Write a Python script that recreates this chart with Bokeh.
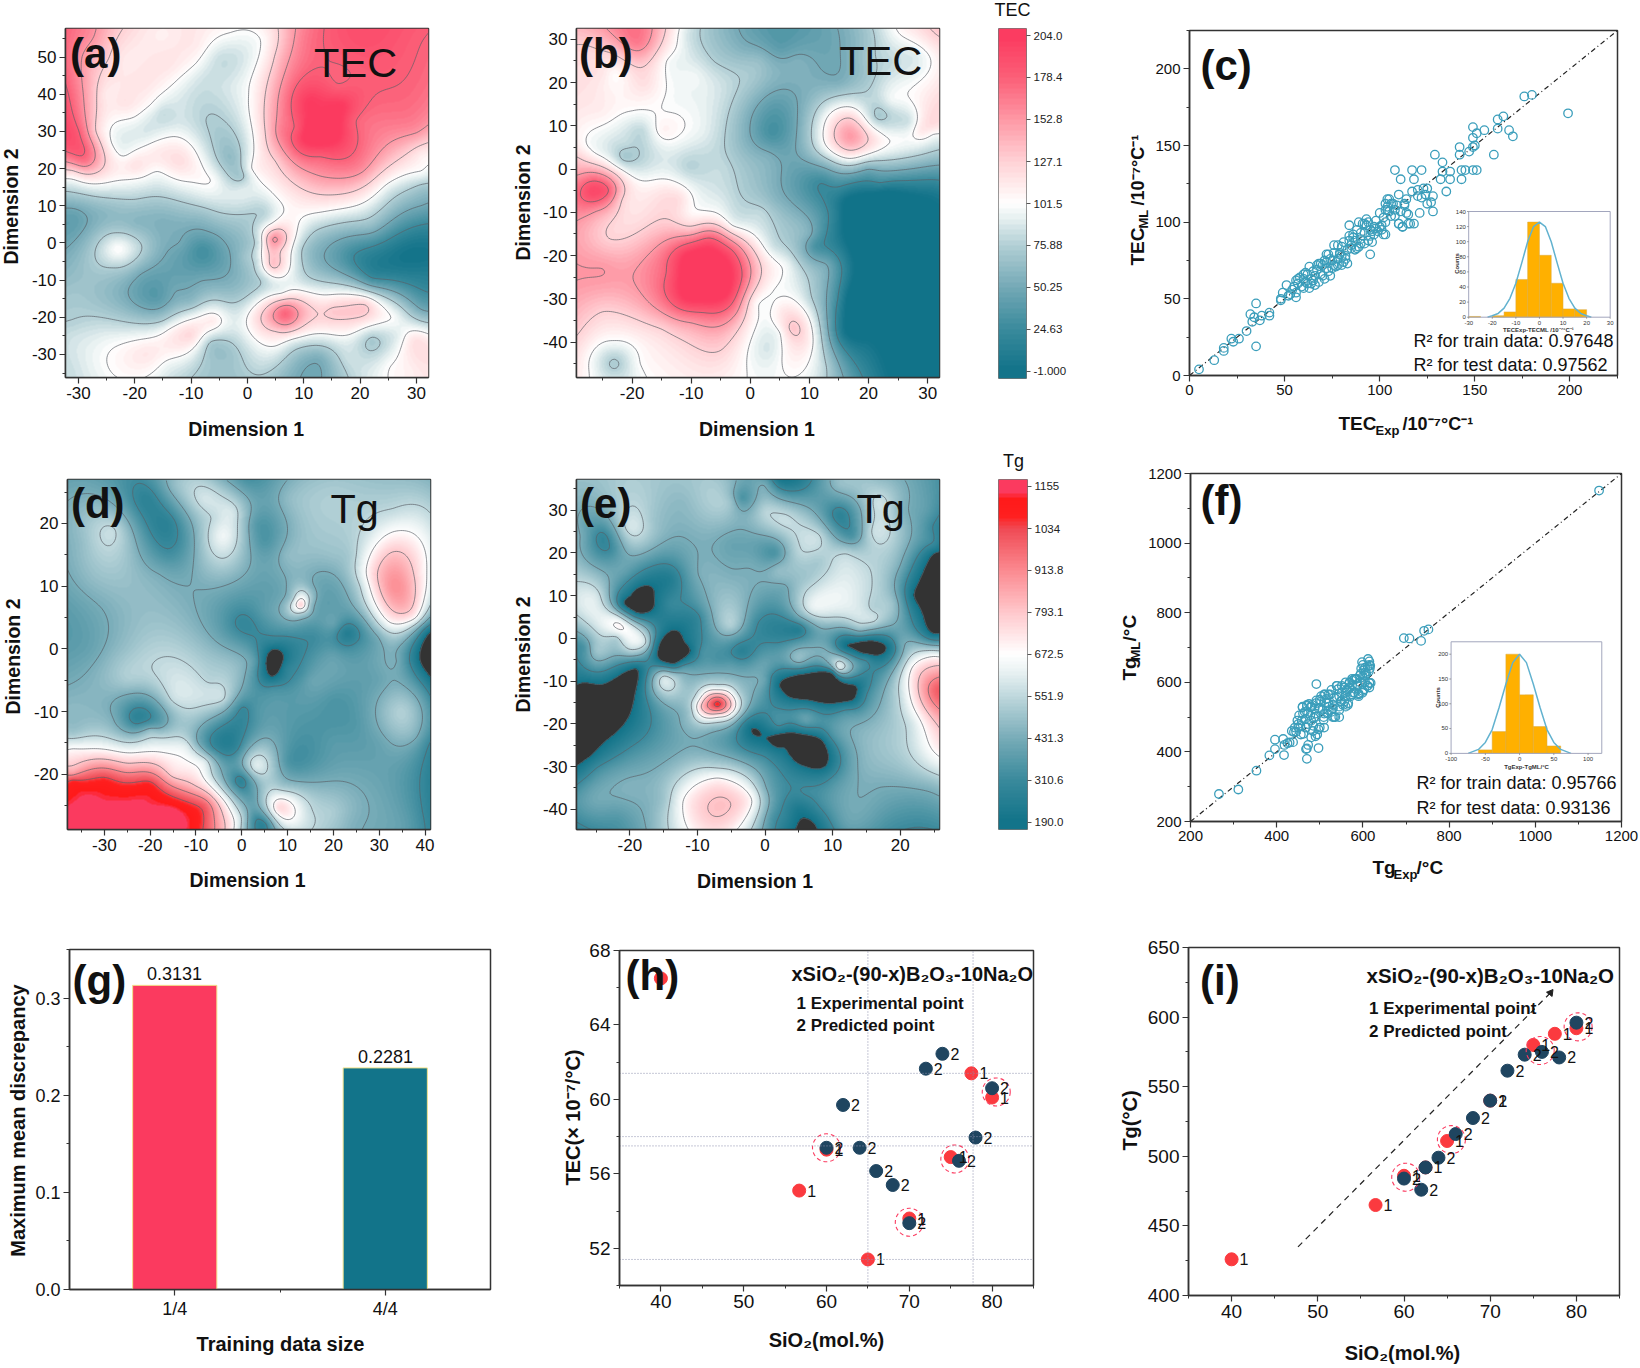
import numpy as np
from bokeh.plotting import figure
from bokeh.layouts import column, row
from bokeh.models import (Label, FixedTicker, LinearColorMapper, Range1d, LinearAxis)
from bokeh.core.properties import value
from bokeh.embed import file_html
from bokeh.resources import INLINE

FONT = "Liberation Sans"

# ---------- values ----------
ANCHORS_A = [
(13,31,225),(8.6,31,180),(19,33,180),(13,23.5,180),(16,42,180),(11,38,205),(10,28,205),(16,28,205),(13,36,205),(17,37,205),(30,55,180),(20,55,190),(10,55,165),(5,50,130),(3,55,105),
(3,30,125),(1,25,100),(5,22,127),(6,30,165),(20,20,160),(13,18,153),(30,30,155),(31,45,175),(31,24,112),(31,19,100),(31,15,70),(25,15,95),(13,13,127),(13,8,100),
(31,10,50),(31,5,25),(31,0,5),(31,-3,0),(31,-8,10),(31,-14,30),(31,-18,50),(31,-21,75),(14,-2,50),(19,-3,25),(25,-3,8),(28,-3,1),(22,4,60),(18,6,78),(22,-10,30),(10,-2,72),(12,3,75),(11,-9,75),
(4.7,1,160),(6,-2,125),(4.5,-6,135),(8,0,105),(2,0,85),(4.5,5,105),(1.5,-5,80),(0,-4,72),(10,-11,88),(0,-10,65),(3,-10,80),
(6.7,-19,178),(1.5,-20,118),(5,-24,125),(10,-21,135),(15,-18,130),(21,-17,130),(23,-17,110),(26,-20,100),(3,-17,120),(6,-13,95),(14,-16,115),(-2,-20,90),(0,-16,85),(-2,-25,85),(2,-27,100),(5,-27.5,103),(8,-27,90),(15,-26,92),
(5,-31,85),(12,-34,48),(13,-31,55),(18,-31,85),(22,-26,72),(26.5,-25,90),(30,-26,118),(29,-34,110),(25,-33,100),(20,-34,85),
(-5,-33,68),(-6.5,-27,72),(-8,-35,72),(-3,-30,68),(2,-34,80),(-14,-33,95),(-20,-34,108),(-18,-30,115),(-10,-25,122),(-6,-21,112),(-14,-23,100),(-25,-26,95),(-31,-34,85),(-31,-25,85),(-31,-22,78),(-15,-21,76),
(-16,-15,38),(-19,-8,52),(-13,-13,50),(-15,-18,55),(-26,-15,65),(-31,-14,70),(-31,-10,65),(-10,-16,62),(-3,-15,70),
(-23,-1.5,102),(-27,-2,76),(-19,-1,78),(-23,3,74),(-24,-7,74),(-8,-2,28),(-12,0,50),(-4,0,50),(-3,-5,50),(-8,-10,50),(-7,3,50),(-14,-2,50),(-8,7,63),(-31,7,42),(-25,8,60),(-20,5,60),(-15,5.5,55),(-31,13,72),(-20,11,73),(-5,8,75),(0,3,70),(3,8,78),
(-31,17,100),(-20,17,100),(-16,19,100),(-10,16,100),(-6,17,100),(-12,22,120),(-20,21,118),(-31,19.5,127),(-29,22,170),(-29,25,180),(-30,30,180),(-31,40,172),(-29,50,150),(-27,40,130),(-31,50,165),(-28,56,158),(-25,57,140),(-25,40,112),(-22,50,114),
(-15,35,82),(-10,40,85),(-5,50,84),(-2,50,85),(-3,23,62),(-5,28,70),(-1,18,70),(-7,33,75),(-4,34,78),(-1,14,92),(-24,27,100),(-22,24,98),(-13,29,100),(-16,25,112),
(-15,40,100),(-3,56,100),(-20,40,115),(-25,50,130),(-20,56,118),(-15,56,110),(-27,30,128),(-30,56,165),(0,40,100),(0.5,20,100),(1,56,100),(4,50,118),(2,15,96),(5,12,100),(8,12,112),
(-20,33.5,100),(-9,48,100),(-12,44,100),(-17,37,100),(-12,36,87),(-8,45,87),(-5,42,85),(-18,30,88),(-10,32,85),(-2,42,92),(-22,38,118),(-14,48,116),(-9,53,112),(-18,43,116),
]
ANCHORS_B = [
(-8,-25,225),(-14,-24,180),(-7,-16,180),(-1.5,-25,180),(-8,-33,180),(-3,-19,180),(-11,-20,205),(-5,-20,205),(-11,-30,205),(-4,-29,205),(-5,-15,153),(0,-25,153),(-2,-33,150),(-10,-35.5,153),(-17,-22,160),(-15,-11.5,127),(-24,-16,127),(-10,-14,135),
(-28,-25,153),(-25,-23,153),(-17,-31,153),(-29,-38,127),(-25,-33,127),(-15,-37,127),(-5,-42,127),(-23,-40,100),(-19,-45,100),(-27,-47,100),(-23,-45,72),(-23,-47.5,82),(-13,-45,112),
(-27,-5,195),(-29,-5,175),(-24,-5,180),(-29,-1,150),(-29,-10,160),(-26,-10,150),(-22,-7,130),(-24,0,125),(-29,3,125),(-28,5,105),(-22,-1,115),(-15,-5,115),(-12,-7,120),(-10,-10,105),(-7,-10,103),(-3,-13,100),(-5,-8,92),
(-19,29,165),(-20,31,170),(-15,30,130),(-23,27,130),(-28,28,125),(-25,22,115),(-23,22,103),(-18,20,120),(-15,21,105),(-14,25,100),(-14,14,100),(-25,13,110),(-20,13,100),(-26,9,100),(-26,4,98),(-21.5,2.5,72),(-21,6,82),(-25,6,92),(-18.5,9,80),(-15,9,108),(-10.5,0.5,78),(-8,8,92),(-10,18,95),(-9.5,21.5,97),(-12,28,98),
(-5,0,82),(-4,30,60),(-6,25,75),(-11,31,90),(-5,20,85),(0,21,72),(1.5,25,65),(-1,28,55),(5,28,40),(12,29,45),(8,25,55),(4,15,40),(3.5,8,30),(0,10,50),(-2,5,65),(3,3,55),(6,0,48),(4,-7,60),(-1,-5,73),(2,-10,80),(4,-18,85),(6,-22,97),(4.5,-28,100),(1,-31,105),(3,-33,100),(1,-40,95),(0,-47,100),(3,-42,88),(5,-38,100),(5.5,-33,115),(7,-37,132),(10,-40,110),(6,-44,105),(10,-45,100),(13,-46,75),(10,-30,80),(8,-20,70),(10,-15,55),(13,-22,50),(13,-40,60),
(17,7.5,152),(13,9,110),(17,12,125),(21,7,118),(25,7,100),(17,3,110),(12,5,90),(10,8,72),(13,14,90),(18,16,85),(10,16,60),(21.5,12,72),(27,11,85),(24,16,97),(28,16,105),(31,10,120),(29,9,115),(31,8,100),(31,4,75),(25,2,73),(20,0,50),(13,1,60),(12,-3,25),(15,-5,20),(22,-3,27),(31,-2,28),(31,-6,3),(23,-5,0),(16,-7,0),(17,-15,-10),(25,-25,-30),(17,-30,-10),(20,-40,0),(23,-47,0),(14,-10,18),(11,-18,30),(15,-30,22),(17,-45,30),(31,-30,-30),(31,-47,-30),(31,-9,-5),(16,-38,2),
(20,31,70),(25,31,100),(31,31,125),(31,26,105),(28,26,90),(24,25,82),(20,22,70),(15,20,55),(20,26,72),
]
ANCHORS_D = [
(-30,-27,1160),(-20,-27,1160),(-12,-27,1130),(-37,-27,1160),(-37,-25,1140),(-30,-25,1145),(-20,-25.5,1140),(-15,-25.5,1140),(-25,-23.7,1125),(-37,-23,1110),(-30,-23.5,1125),(-37,-21,1060),(-30,-21,1070),(-20,-21.5,1060),(-37,-20,880),(-25,-19,850),(-15,-20,760),(-37,-16,680),(-20,-16,650),(-12,-15.5,600),(-37,-13.5,500),(-20,-13,480),(-8,-18,600),(-8,-25,990),(-5,-27,850),(-2,-28,700),(-10,-22,800),(-3,-24,600),(0,-27,550),(-6,-20,520),(-10,-15,450),
(33,10,900),(33,15,810),(33,6,790),(28,12,720),(39,12,730),(33,19,660),(28,18,600),(39,22,570),(33,22,560),(26,10,560),(32,4,650),(24,15,520),(38,5,680),(40,8,660),(37,3,500),(30,2,440),
(13,7,800),(13,8.8,600),(11,8,500),(15,7,480),(13,5.5,500),
(7,-2,110),(5.3,-2,190),(8.5,-3,190),(7,0,190),(6.5,-4.5,190),(4.5,-2,250),(9.5,-3,260),(7,1,270),(3,-2,370),(10,-5,300),(7,-6,320),(13,-4,330),(13,2,320),(16,2,320),(23,2.5,240),(25,0.5,330),(28,-1,390),(20,4,400),(20,-1,390),
(40.5,-1.5,120),(39,-2,190),(38,-3,270),(36,-2,340),(40,3,280),(34,-2,430),(39,-7,380),
(-16,20,270),(-16,15,330),(-12,17,370),(-21,24,270),(-18,12,430),(-28,19,560),(-35,17,480),(-37,7,390),(-30,7,440),(-33,11,470),(-4,18,640),(-4,14,540),(-6,21,560),(-8,24,590),(-15,26,470),(-2,22,590),(1,27,340),(-5,27,460),(5,17,350),(3,20,370),(10,24,470),(20,25,520),(40,26,480),(10,15,470),(20,15,490),(15,10,450),(5,6,380),(0,4,290),(2,3,300),(-4,5,360),(-10,9,430),
(-25,0,490),(-33,0,400),(-20,-3,550),(-15,-8,570),(-25,-5,520),(-7,-5,540),(-4,-8,560),(-3,-3,500),(-30,-8,450),(-23,-11.5,280),(-20,-12,350),(-18,-12,380),(-10,-12,470),(-28,-11,430),(-37,-10,470),
(-4,-16,270),(-7,-16,350),(-1,-16,300),(-3,-19,380),(0,-21,270),(2,-18,560),(3,-19,600),(5,-15,460),(2,-24,380),(3,-27,320),(5,-28,280),(8,-25.5,750),(6,-24,600),(12,-26,660),(9,-28,600),(9,-22,500),(15,-26,560),(20,-26,520),(24,-28,450),(28,-26,430),(36,-28,380),(40,-26,300),(40,-15,340),(30,-15,400),(20,-15,370),(15,-5,400),(10,-10,370),(3,-10,350),(0,-9.5,300),(20,-8,350),(25,-12,360),(35,-10,530),(30,-5,400),(38,-14,440),(10,-18,350),(15,-22,460),
]
ANCHORS_E = [
(-27,-12,130),(-27,-22,130),(-23,-18,130),(-19.5,-10,150),(-26,-27,170),(-23,-10,190),(-19,-7,190),(-22,-22,190),(-28,-7,270),(-28,-3,320),(-25,-6,400),(-17.5,-6,300),(-16,-15,390),(-20,-25,300),(-25,-30,300),(-28,-30,190),(-28,-38,360),(-25,-38,420),(-20,-35,450),(-28,-11,190),(-24,-11.5,170),
(-18.5,9.5,90),(-19,6,190),(-16.5,10,190),(-20,10,200),(-21,8,190),(-16.5,11.5,190),(-18,12.3,190),(-14,8,300),(-12,10,320),(-9,8,400),
(-13.5,-2,80),(-15,-5.5,190),(-12,-1,190),(-14.5,1.5,200),(-13.5,2,190),(-16,-4,190),(-11,-3,190),(-13.5,-6,190),(-16.5,-1,310),(-9.5,-3,330),(-12,-7,380),
(25,10,130),(23.5,5,190),(22,10,190),(25,20,190),(25,1,190),(20,10,380),(25,22,300),(22,0,400),(19,8,490),
(15,-2,60),(12,-2,190),(18,-2,190),(15,-0.8,190),(15,-3.5,190),(11,-2,270),(19,-2,270),(15,0.5,290),(15,-5,310),(20,-1,400),(9,-2,420),
(8,-11.5,70),(2.5,-12,190),(13.5,-11,190),(7,-8,190),(8,-15,190),(5,-8.5,190),(10,-8,190),(2,-11,190),(13,-14.5,190),(4,-14,190),(5,-11,90),(11,-12,90),(1,-9,300),(15,-13,310),(15,-8,300),(10.8,-7,620),(9,-6.5,350),(0,-10,400),(12,-17,330),
(5,-26,70),(0.5,-23,190),(8.5,-24,190),(9,-30,190),(4,-28,190),(6,-30,190),(3,-25,190),(4,-22,190),(7,-25,90),(2.5,-24,110),(2,-20.5,320),(-2,-21,190),(-3,-20,280),(-4,-23,300),(0,-27,290),(10,-33,330),(10,-23,340),(6,-19,400),
(-7,-15.5,1100),(-7,-13,800),(-9.5,-16,800),(-5,-16,780),(-7,-18,720),(-10,-14,600),(-7,-11.5,600),(-4,-13,550),(-11,-17,520),(-8,-20.5,500),(-12,-20,450),(-12,-10,470),
(-7,-38,800),(-7,-33,690),(-12,-38,680),(-2,-38,680),(-7,-31,580),(-13,-30,480),(-15,-38,500),(-7,-44.5,750),(0,-35,440),(-18,-42,430),(-22,-42,360),(-27.5,-44,300),(1,-42,350),
(5,-40,220),(3,-42,280),(6,-36,320),(7,-44,170),(8,-40,300),(11,-38,400),
(25.5,-12,1000),(25,-8,850),(22,-7,700),(21.5,-12,690),(25,-4,660),(25.5,-20,800),(25,-25,700),(25,-30,600),(25,-34,480),(22,-20,600),(20,-14,560),(18,-12,450),(20,-5,440),(18,-22,500),(20,-32,470),(17,-35,430),(25,-44,320),(18,-44,340),(12,-44,390),(14,-30,440),
(-5,3,530),(-1.5,4,330),(-3.5,-3,260),(0,-2,330),(2,-1,310),(5,2,240),(5,0,320),(7,2,370),(-5,-6,370),(0,-6,400),(5,-5,480),(7,7,620),(6,11,550),(8,5,550),(6.5,14,510),(2,16,480),(16,4.5,580),(16,7,530),(14,2,470),(-10,15,430),(-5,15,440),(0,10,390),(5,5,420),(-14,14,240),(-10,5,290),(-8,0,360),(-11,18,410),(-7,-5,340),(-7,-8,430),
(-20,26,590),(-20,22,490),(-17,28,510),(-24,30,440),(-24,24,290),(-23,21,310),(-26,28,390),(-18,16,310),(-21,16,400),(-12,25,440),(-10,32,500),(-12,32,470),(-5,32,490),(-3.5,33,340),(0,36,430),(2,37,230),(5,37,240),(-5,36,460),(-13,36,490),(8,37,360),(0,30,540),(5,25,560),(5,20,540),(1.5,20,340),(13,28,340),(11,29,270),(13,24,340),(14,30,420),(16,25,570),(17,32,580),(17,21,540),(20,30,460),(11,36,480),(17,37,480),(24,30,380),(25,26,300),(22,25,420),(20,17,430),
(-27,24,420),(-28,20,460),(-28,14,540),(-26,8,620),(-25,10,590),(-22,5,600),(-21.5,3,700),(-20,2,650),(-22,0,520),(-27,3,510),(-27,-2,330),(-25,-3,500),(-20,-3,530),(-17.5,-1,550),(-17,3,350),(-15,-8.5,540),(-15,-10,600),(-13,-9,500),
(3,28,570),(8,24,560),(12,20,550),(15,18.5,540),(8,18,510),(7,10,600),(-5,22,400),(-2,18,420),(3,12,420),(7,30,430),(2,33,420),
]

TEC_TICKS = [-1, 24.63, 50.25, 75.88, 101.5, 127.1, 152.8, 178.4, 204.0]
TEC_TICK_LABELS = ["-1.000", "24.63", "50.25", "75.88", "101.5", "127.1", "152.8", "178.4", "204.0"]
TG_TICKS = [190, 310.6, 431.3, 551.9, 672.5, 793.1, 913.8, 1034, 1155]
TG_TICK_LABELS = ["190.0", "310.6", "431.3", "551.9", "672.5", "793.1", "913.8", "1034", "1155"]

TEC_STOPS = [(-1,"#117389"),(24.63,"#3a8a9c"),(50.25,"#74a9b6"),(75.88,"#b2cfd5"),(92,"#e5eff0"),(101.5,"#ffffff"),(110,"#fff0f0"),(127.1,"#ffd2d6"),(152.8,"#fe98a5"),(178.4,"#fb5f78"),(204,"#fb3a5f")]
TG_STOPS = [(190,"#117389"),(310.6,"#3a8a9c"),(431.3,"#78acb8"),(551.9,"#bfd8dd"),(620,"#e8f1f2"),(672.5,"#ffffff"),(793.1,"#ffc8cc"),(913.8,"#fb8a90"),(1034,"#f04a55"),(1070,"#ff1f1f"),(1125,"#ff1a1a"),(1135,"#fb3a5f"),(1155,"#fb3a5f")]

C_EXP = [5,13,18,18,22,23,26,30,32,33,35,35,34,37,38,42,42,48,48,49,51,52,53,55,56,56,56,57,199,176,180,165,162,162,168,170,155,149,151,149,150,149,147,142,142,160,129,133,132,133,137,137,135,143,145,143,149,151,108,117,118,111,122,123,125,120,117,120,122,124,125,127,128,128,121,118,115,112,110,114,113,110,105,103,104,
58,60,61,59,60,62,63,63,64,65,66,66,67,67,68,69,70,71,71,72,72,73,73,74,75,76,76,77,78,78,79,80,80,81,81,82,83,83,84,84,84,85,86,87,87,88,89,89,90,91,92,92,93,93,94,95,95,96,96,97,98,99,100,101,102,102,103,103,104,105,106,107,108,109,110,111,112,113,114,115,116,54,57,61,65,69,74,79,82,86,90,94,98,101,104,
70,75,78,80,85,88,90,92,95,97,100,103,106,108,60,62,64,68,72,76]
C_ML = [4,10,16,18,24,22,24,29,40,35,47,19,38,36,39,41,39,49,50,54,59,52,53,58,54,51,62,63,171,182,183,169,167,161,160,156,160,162,158,155,150,149,146,149,144,144,144,139,128,133,133,128,120,134,134,128,134,134,134,134,128,128,134,122,122,121,120,117,116,118,112,113,117,107,106,99,99,97,99,106,112,118,115,112,108,
64,66,61,58,63,60,71,57,63,68,59,65,72,69,61,66,72,63,75,79,70,68,79,65,75,72,80,71,85,76,79,72,84,74,87,78,82,73,88,91,98,85,92,82,88,95,84,100,89,99,86,93,102,98,88,79,91,94,87,97,101,94,106,98,92,103,92,100,115,107,104,112,108,111,99,107,97,111,115,105,99,56,60,67,62,73,76,80,76,90,93,100,96,95,110,
65,70,72,78,83,83,86,99,95,92,97,108,112,104,57,66,60,73,74,85]

F_EXP = [266,311,353,383,396,396,415,417,418,430,470,497,468,473,492,695,708,735,742,752,1148,612,598,605,615,616,614,615,
445,448,452,455,458,460,462,465,468,470,472,475,478,480,482,484,486,488,490,492,494,497,500,503,506,509,512,515,518,521,524,527,530,533,536,539,542,545,548,551,554,557,560,563,566,569,572,575,578,581,584,587,590,593,596,599,602,605,608,611,438,442,450,456,461,467,473,479,485,491,497,503,509,515,521,527,533,539,545,551,557,563,569,575,581,587,593,599,605,611,615,617,603,590,575,560,545,530,
460,470,480,500,510,520,540,560,575,470,490,510,530,545,565,590,610,615,618,600,480,490,500,510,530,520,550,560,570,585,595,605,600,450,440,425,435]
F_ML = [279,292,346,390,408,435,437,391,420,427,380,411,408,420,595,727,726,719,748,752,1151,667,658,642,650,640,632,598,
458,490,505,475,490,528,452,515,470,532,480,538,505,442,535,460,498,525,510,548,450,525,470,560,520,500,565,540,510,530,565,515,535,555,500,590,580,520,545,570,535,585,560,580,540,600,560,605,570,610,610,590,565,620,640,615,635,600,625,645,428,470,480,450,510,495,512,528,475,540,465,545,492,552,520,578,500,558,530,590,545,575,598,565,570,595,600,570,628,590,660,648,580,568,592,530,560,525,
530,535,530,550,565,565,590,600,610,410,445,470,500,500,535,560,590,585,598,575,490,500,525,510,525,540,545,570,585,610,625,620,650,470,457,425,460]

INSET_C_LEFT = [-30,-20,-15,-10,-5,0,5,10,15]
INSET_C_RIGHT = [-25,-15,-10,-5,0,5,10,15,20]
INSET_C_COUNTS = [1,2,7,50,126,82,45,11,10]
INSET_C_CURVE_X = [-22,-20,-17.5,-15,-12.5,-10,-7.5,-5,-2.5,0,2.5,5,7.5,10,12.5,15,17.5,20,22]
INSET_C_CURVE_Y = [0,2,5,12,25,45,72,100,120,126,120,100,72,45,25,12,5,2,0]
INSET_F_LEFT = [-60,-40,-20,0,20,40]
INSET_F_RIGHT = [-40,-20,0,20,40,60]
INSET_F_COUNTS = [7,44,200,118,54,15]
INSET_F_CURVE_X = [-75,-60,-50,-40,-30,-20,-10,0,10,20,30,40,50,60,75]
INSET_F_CURVE_Y = [0,8,22,48,92,140,183,200,183,140,92,48,22,8,0]

MMD_POS = [1, 2]
MMD_VALUES = [0.3131, 0.2281]
MMD_LABELS = ["0.3131", "0.2281"]

H_EXP_X = [40,56.7,60,65,70,75,77.5,80]
H_EXP_Y = [66.5,55.1,57.3,51.4,53.6,56.9,61.4,60.1]
H_EXP_TAGS = ["","1","1","1","1","1","1","1"]
H_PRED_X = [60,62,64,66,68,70,72,74,76,78,80]
H_PRED_Y = [57.4,59.7,57.4,56.15,55.4,53.35,61.65,62.45,56.7,57.95,60.6]
H_PRED_TAGS = ["2"]*11
H_RING_X = [60,70,75.5,80.5]
H_RING_Y = [57.4,53.4,56.8,60.4]
H_HLINES = [61.4,58,57.5,51.4]
H_VLINES = [65,77.7]

I_EXP_X = [40,56.7,60,62.5,65,70,75,77.5,80]
I_EXP_Y = [426,465,486,492,511,540,580,588,592]
I_EXP_TAGS = ["1"]*9
I_PRED_X = [60,62,62.5,64,66,68,70,72,74,76,78,80]
I_PRED_Y = [484,476,492,499,516,527.5,540,561.5,573,575,571,596]
I_PRED_TAGS = ["2","2","","2","2","2","2","2","2","2","2","2"]
I_RING_X = [60.2,65.5,75.8,80.2]
I_RING_Y = [485,512,576,593]
I_GUIDE_X = [47.7,77]
I_GUIDE_Y = [434.9,617.5]

# ---------- page geometry (reference pixels) ----------
PAGE_W, PAGE_H = 1640, 1368
ROWS = [(0,445),(445,890),(890,1368)]
DARK = "#333333"

# transparent sheet over the whole page that carries the panel texts
sheet = figure(width=PAGE_W,height=PAGE_H,x_range=Range1d(0,PAGE_W),y_range=Range1d(PAGE_H,0),
               toolbar_location=None,output_backend="svg",margin=(-PAGE_H,0,0,0),
               min_border_left=0,min_border_right=0,min_border_top=0,min_border_bottom=0,
               background_fill_color=None,border_fill_color=None,outline_line_color=None)
sheet.axis.visible=False
sheet.grid.visible=False

def T(px,py,text,size=18,bold=False,angle=0,align="left",color="#111111"):
    sheet.add_layout(Label(x=px,y=py,text=text,text_font=FONT,
        text_font_size=f"{size}px",text_font_style="bold" if bold else "normal",
        angle=angle,text_align=align,text_baseline="middle",text_color=color))

def hex2rgb(c): return np.array([int(c[i:i+2],16) for i in (1,3,5)],float)

def make_palette(stops, n):
    vs = np.array([s[0] for s in stops],float)
    cs = np.array([hex2rgb(s[1]) for s in stops])
    q = vs[0]+(np.arange(n)+0.5)/n*(vs[-1]-vs[0])
    return ["#%02x%02x%02x"%tuple(int(round(np.interp(v,vs,cs[:,k]))) for k in range(3)) for v in q]

def fit_surface(anchors, frame, xr, yr):
    l,r,t,b = frame
    a = np.array(anchors,float)
    sx = (r-l)/(xr[1]-xr[0])/100; sy=(b-t)/(yr[1]-yr[0])/100
    P = np.c_[a[:,0]*sx,a[:,1]*sy]
    def k(d2):
        with np.errstate(divide="ignore",invalid="ignore"):
            out = 0.5*d2*np.log(d2)
        return np.nan_to_num(out)
    d2 = ((P[:,None,:]-P[None,:,:])**2).sum(-1)
    n=len(P)
    A=np.zeros((n+3,n+3))
    A[:n,:n]=k(d2)+0.002*np.eye(n)
    A[:n,n]=1; A[:n,n+1:n+3]=P
    A[n,:n]=1; A[n+1:n+3,:n]=P.T
    rhs=np.r_[a[:,2],0,0,0]
    w=np.linalg.solve(A,rhs)
    nx=int(round(r-l)); ny=int(round(b-t))
    xs=np.linspace(xr[0],xr[1],nx); ys=np.linspace(yr[0],yr[1],ny)
    Z=np.zeros((ny,nx))
    gx=xs*sx
    for j,y in enumerate(ys):
        Q=np.c_[gx,np.full(nx,y*sy)]
        D=((Q[:,None,:]-P[None,:,:])**2).sum(-1)
        Z[j]=k(D)@w[:n]+w[n]+Q@w[n+1:]
    return xs,ys,Z

class Panel:
    def __init__(self, fig_box, frame, xr, yr, xmaj, xmin, ymaj, ymin, tick_size=17):
        fl,fr,ft,fb = fig_box
        l,r,t,b = frame
        self.frame=frame; self.xr=xr; self.yr=yr
        p = figure(width=int(fr-fl),height=int(fb-ft),x_range=Range1d(*xr),y_range=Range1d(*yr),
                   toolbar_location=None,output_backend="svg",
                   min_border_left=int(round(l-fl)),min_border_right=int(round(fr-r)),
                   min_border_top=int(round(t-ft)),min_border_bottom=int(round(fb-b)))
        p.grid.visible=False
        p.outline_line_color=DARK; p.outline_line_width=1.5
        p.background_fill_color="white"; p.border_fill_color="white"
        for ax,maj,mi in ((p.xaxis[0],xmaj,xmin),(p.yaxis[0],ymaj,ymin)):
            ax.ticker=FixedTicker(ticks=maj,minor_ticks=mi)
            ax.major_label_overrides={v:(f"{v:g}") for v in maj}
            ax.major_tick_in=0; ax.major_tick_out=6; ax.minor_tick_in=0; ax.minor_tick_out=3
            ax.axis_line_color=DARK; ax.axis_line_width=1.5
            ax.major_tick_line_color=DARK; ax.minor_tick_line_color=DARK
            ax.major_tick_line_width=1.2
            ax.major_label_text_font=FONT; ax.major_label_text_font_size=f"{tick_size}px"
            ax.major_label_text_color="#111111"; ax.major_label_standoff=3
        p.yaxis[0].major_label_orientation="horizontal"
        self.p=p

def steps(a,b,s): return [round(a+i*s,6) for i in range(int(round((b-a)/s))+1)]

def field_panel(box,frame,xr,yr,xmaj,xmin,ymaj,ymin,anchors,mapper,levels):
    P=Panel(box,frame,xr,yr,xmaj,xmin,ymaj,ymin)
    xs,ys,Z=fit_surface(anchors,frame,xr,yr)
    P.p.image(image=[Z],x=xr[0],y=yr[0],dw=xr[1]-xr[0],dh=yr[1]-yr[0],color_mapper=mapper)
    P.p.contour(xs[::2],ys[::2],Z[::2,::2],levels=levels,line_color="#5a5f66",line_width=0.8,line_alpha=0.85)
    return P

def colorbar(box,frame,yr,ticks,labels,mapper,vmin,vmax):
    P=Panel(box,frame,(0,1),yr,[],[],ticks,[])
    p=P.p
    p.yaxis.visible=False
    ax=LinearAxis(ticker=FixedTicker(ticks=ticks),major_label_overrides={t:l for t,l in zip(ticks,labels)})
    ax.major_tick_in=0; ax.major_tick_out=4; ax.minor_tick_out=0; ax.axis_line_color=None
    ax.major_tick_line_color="#555555"; ax.major_label_standoff=3
    ax.major_label_text_font=FONT; ax.major_label_text_font_size="11.5px"; ax.major_label_text_color="#222222"
    p.add_layout(ax,"right")
    p.xaxis.visible=False
    p.outline_line_color="#777777"; p.outline_line_width=1
    n=350
    Z=np.clip(np.linspace(yr[0],yr[1],n),vmin,vmax)[:,None]
    p.image(image=[Z],x=0,y=yr[0],dw=1,dh=yr[1]-yr[0],color_mapper=mapper)
    return P

def inset(P,frame_in,xlim,ylim,left,right,counts,cx,cy,xticks,yticks):
    p=P.p; l,r,t,b=frame_in; fl,fr,ft,fb=P.frame
    kx=(xlim[1]-xlim[0])/(r-l); ky=(ylim[1]-ylim[0])/(b-t)
    p.extra_x_ranges["ix"]=Range1d(xlim[0]-(l-fl)*kx,xlim[1]+(fr-r)*kx)
    p.extra_y_ranges["iy"]=Range1d(ylim[0]-(fb-b)*ky,ylim[1]+(t-ft)*ky)
    kw=dict(x_range_name="ix",y_range_name="iy")
    p.quad(left=left,right=right,bottom=[0]*len(left),top=counts,fill_color="#ffb000",line_color="#d9a840",line_width=0.5,**kw)
    p.line(cx,cy,line_color="#62b2cf",line_width=1.5,**kw)
    p.quad(left=[xlim[0]],right=[xlim[1]],bottom=[ylim[0]],top=[ylim[1]],fill_color=None,line_color="#a2a6bd",line_width=1,**kw)
    tkx=(xlim[1]-xlim[0])*0.012; tky=(ylim[1]-ylim[0])*0.015
    p.segment(x0=xticks,x1=xticks,y0=[ylim[0]]*len(xticks),y1=[ylim[0]-tky]*len(xticks),line_color="#666666",line_width=0.6,**kw)
    p.segment(x0=[xlim[0]]*len(yticks),x1=[xlim[0]-tkx]*len(yticks),y0=yticks,y1=yticks,line_color="#666666",line_width=0.6,**kw)
    for v in xticks:
        T(l+(v-xlim[0])/kx,b+6,str(v),size=6,align="center",color="#333333")
    for v in yticks:
        T(l-3,b-(v-ylim[0])/ky,str(v),size=6,align="right",color="#333333")

def scatter_panel(box,frame,rng,maj,mi,xs,ys):
    P=Panel(box,frame,rng,rng,maj,mi,maj,mi,tick_size=15)
    P.p.line([rng[0],rng[1]],[rng[0],rng[1]],line_color="#222222",line_width=1.2,line_dash="5 3 1 3")
    P.p.scatter(xs,ys,size=8.5,marker="circle",fill_alpha=0,line_color="#3b9ebb",line_width=1.3)
    return P

tec_mapper=LinearColorMapper(palette=make_palette(TEC_STOPS,64),low=-1,high=204,low_color="#117389",high_color="#fb3a5f")
tg_mapper=LinearColorMapper(palette=make_palette(TG_STOPS,96),low=190,high=1155,low_color="#333333",high_color="#fb3a5f")
tec_lv=TEC_TICKS[1:-1]
tg_lv=TG_TICKS[:-1]
ROT=np.pi/2

# ---- row 1
t,b=ROWS[0]
A=field_panel((0,510,t,b),(64.6,427.5,28,377),(-32.3,32.15),(-36.2,57.7),steps(-30,30,10),steps(-25,25,10),steps(-30,50,10),steps(-35,55,10),ANCHORS_A,tec_mapper,tec_lv)
T(69.6,53,"(a)",42,True); T(313.6,62,"TEC",41.5)
T(245.6,428,"Dimension 1",19.5,True,align="center"); T(10.7,206,"Dimension 2",19.5,True,angle=ROT,align="center")
B=field_panel((510,990,t,b),(575.8,939,28,377),(-29.4,32),(-48.2,32.5),steps(-20,30,10),steps(-25,25,10),steps(-40,30,10),steps(-45,25,10),ANCHORS_B,tec_mapper,tec_lv)
T(578.5,53,"(b)",42,True); T(838.7,60,"TEC",41.5)
T(756.4,428,"Dimension 1",19.5,True,align="center"); T(522,202,"Dimension 2",19.5,True,angle=ROT,align="center")
CB1=colorbar((990,1100,t,b),(997.5,1026,28,378),(-5.3,208.3),TEC_TICKS,TEC_TICK_LABELS,tec_mapper,-1,204)
T(1012,9,"TEC",18,align="center")
C=scatter_panel((1100,1640,t,b),(1189.3,1617,30,375),(0,225),steps(0,200,50),steps(25,225,50),C_EXP,C_ML)
inset(C,(1468.3,1609.7,211,316.7),(-30,30),(0,140),INSET_C_LEFT,INSET_C_RIGHT,INSET_C_COUNTS,INSET_C_CURVE_X,INSET_C_CURVE_Y,[-30,-20,-10,0,10,20,30],[0,20,40,60,80,100,120,140])
T(1456,263,"Counts",6,True,angle=ROT,align="center",color="#333333")
T(1538,329,"TECExp-TECML /10⁻⁷°C⁻¹",6,True,align="center",color="#333333")
T(1200,65,"(c)",42,True)
T(1413,340,"R² for train data: 0.97648",18); T(1413,364,"R² for test  data: 0.97562",18)
T(1338,423,"TEC",19,True); T(1375,430,"Exp",13,True); T(1402,423,"/10⁻⁷°C⁻¹",18,True)
T(1137,265,"TEC",19,True,angle=ROT); T(1143,228,"ML",13,True,angle=ROT); T(1137,205,"/10⁻⁷°C⁻¹",18,True,angle=ROT)

# ---- row 2
t,b=ROWS[1]
D=field_panel((0,510,t,b),(66.8,429.6,479,828.7),(-38.05,41.2),(-28.8,27),steps(-30,40,10),steps(-35,35,10),steps(-20,20,10),steps(-25,25,10),ANCHORS_D,tg_mapper,tg_lv)
T(70.4,503,"(d)",42,True); T(330,508,"Tg",41.5)
T(247,879,"Dimension 1",19.5,True,align="center"); T(12.5,656,"Dimension 2",19.5,True,angle=ROT,align="center")
E=field_panel((510,990,t,b),(576.5,939.3,479,829),(-27.9,25.8),(-44.75,37.2),steps(-20,20,10),steps(-25,25,10),steps(-40,30,10),steps(-35,35,10),ANCHORS_E,tg_mapper,tg_lv)
T(579.6,503,"(e)",42,True); T(856,508,"Tg",41.5)
T(754.5,880,"Dimension 1",19.5,True,align="center"); T(522,654,"Dimension 2",19.5,True,angle=ROT,align="center")
CB2=colorbar((990,1100,t,b),(998,1027,479,829),(169,1175),TG_TICKS,TG_TICK_LABELS,tg_mapper,190,1155)
T(1013,460,"Tg",18,align="center")
F=scatter_panel((1100,1640,t,b),(1190.3,1621,473.3,820.7),(200,1200),steps(200,1200,200),steps(300,1100,200),F_EXP,F_ML)
inset(F,(1450.7,1601.3,641.3,752.7),(-100,120),(0,225),INSET_F_LEFT,INSET_F_RIGHT,INSET_F_COUNTS,INSET_F_CURVE_X,INSET_F_CURVE_Y,[-100,-50,0,50,100],[0,50,100,150,200])
T(1437,697,"Counts",6,True,angle=ROT,align="center",color="#333333")
T(1526,766,"TgExp-TgML/°C",6,True,align="center",color="#333333")
T(1200,500,"(f)",42,True)
T(1416,782,"R² for train data: 0.95766",18); T(1416,807,"R² for test  data: 0.93136",18)
T(1372,867,"Tg",19,True); T(1393,874,"Exp",13,True); T(1416,867,"/°C",19,True)
T(1129,680,"Tg",19,True,angle=ROT); T(1135,660,"ML",13,True,angle=ROT); T(1129,641,"/°C",19,True,angle=ROT)

# ---- row 3
t,b=ROWS[2]
G=Panel((0,510,t,b),(69.3,490.3,949.3,1289.3),(0.5,2.5),(0,0.35),MMD_POS,[1.5],[0,0.1,0.2,0.3],[0.05,0.15,0.25,0.35],tick_size=18)
G.p.xaxis[0].major_label_overrides={1:"1/4",2:"4/4"}
G.p.yaxis[0].major_label_overrides={0:"0.0",0.1:"0.1",0.2:"0.2",0.3:"0.3"}
G.p.vbar(x=MMD_POS,top=MMD_VALUES,width=0.4,fill_color=["#fb3a5f","#12748a"],line_color="#f2e28a",line_width=1)
T(72,980,"(g)",42,True)
T(174,973,MMD_LABELS[0],18,align="center"); T(385,1056,MMD_LABELS[1],18,align="center")
T(280,1343,"Training data size",20,True,align="center"); T(17,1120,"Maximum mean discrepancy",20,True,angle=ROT,align="center")

def comp_panel(box,frame,yr,ymaj,ymin,ex,ey,etags,px,py,ptags,rx,ry):
    P=Panel(box,frame,(35,85),yr,steps(40,80,10),steps(35,85,10),ymaj,ymin,tick_size=19)
    p=P.p
    p.scatter(ex,ey,size=13,fill_color="#fb3a3f",line_color="#fb3a3f")
    p.scatter(px,py,size=13,fill_color="#1f4560",line_color="#1f4560")
    p.scatter(rx,ry,size=28,fill_alpha=0,line_color="#fb3a5f",line_width=1.1,line_dash="4 3")
    p.text(ex,ey,text=etags,x_offset=8,text_baseline="middle",text_font=value(FONT),text_font_size="16px",text_color="#111111")
    p.text(px,py,text=ptags,x_offset=8,text_baseline="middle",text_font=value(FONT),text_font_size="16px",text_color="#111111")
    return P

H=comp_panel((510,1100,t,b),(619.3,1033,950,1284.7),(50,68),steps(52,68,4),steps(50,66,4),H_EXP_X,H_EXP_Y,H_EXP_TAGS,H_PRED_X,H_PRED_Y,H_PRED_TAGS,H_RING_X,H_RING_Y)
for v in H_HLINES:
    H.p.line([35,85],[v,v],line_color="#8d90ad",line_width=1,line_dash="1 2")
for v in H_VLINES:
    H.p.line([v,v],[50,68],line_color="#8d90ad",line_width=1,line_dash="1 2")
T(625,975,"(h)",42,True)
T(791,973,"xSiO₂-(90-x)B₂O₃-10Na₂O",20,True)
T(796,1003,"1 Experimental point",17,True); T(796,1025,"2 Predicted point",17,True)
T(826,1339,"SiO₂(mol.%)",20,True,align="center")
T(572,1117,"TEC(× 10⁻⁷/°C)",20,True,angle=ROT,align="center")

I=comp_panel((1100,1640,t,b),(1188,1618.8,946.7,1294.7),(400,650),steps(400,650,50),steps(425,625,50),I_EXP_X,I_EXP_Y,I_EXP_TAGS,I_PRED_X,I_PRED_Y,I_PRED_TAGS,I_RING_X,I_RING_Y)
I.p.line(I_GUIDE_X,I_GUIDE_Y,line_color="#222222",line_width=1.2,line_dash="6 5")
I.p.scatter(I_GUIDE_X[1:],I_GUIDE_Y[1:],size=7,marker="triangle",angle=-0.65,fill_color="#222222",line_color="#222222")
T(1199.6,980,"(i)",42,True)
T(1366,975,"xSiO₂-(90-x)B₂O₃-10Na₂O",20.5,True)
T(1368.6,1008,"1 Experimental point",17,True); T(1368.6,1031,"2 Predicted point",17,True)
T(1402,1352,"SiO₂(mol.%)",20,True,align="center")
T(1129,1120,"Tg(°C)",20,True,angle=ROT,align="center")

def cell(P): return column(P.p)
page=column(row(cell(A),cell(B),cell(CB1),cell(C)),
            row(cell(D),cell(E),cell(CB2),cell(F)),
            row(cell(G),cell(H),cell(I)),
            sheet)
open("out.html","w").write(file_html(page,INLINE))
